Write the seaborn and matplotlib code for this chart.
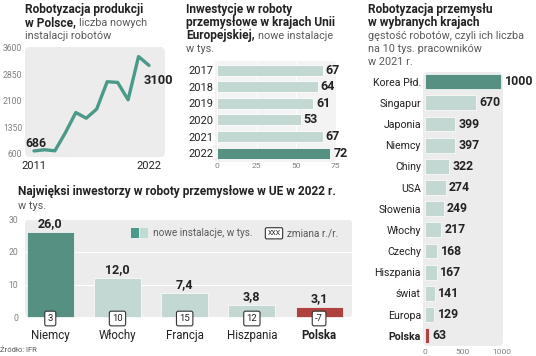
import matplotlib
matplotlib.use('Agg')
import matplotlib.pyplot as plt
from matplotlib.patches import FancyBboxPatch, Rectangle
import seaborn as sns

# data
pl_years = list(range(2011, 2023))
pl_installs = [686, 720, 690, 1200, 1770, 1610, 1870, 2640, 2620, 2130, 3350, 3100]

eu_years = ['2017', '2018', '2019', '2020', '2021', '2022']
eu_installs = [67, 64, 61, 53, 67, 72]

dens_countries = ['Korea Płd.', 'Singapur', 'Japonia', 'Niemcy', 'Chiny', 'USA', 'Słowenia',
                  'Włochy', 'Czechy', 'Hiszpania', 'świat', 'Europa', 'Polska']
dens_values = [1000, 670, 399, 397, 322, 274, 249, 217, 168, 167, 141, 129, 63]

inv_countries = ['Niemcy', 'Włochy', 'Francja', 'Hiszpania', 'Polska']
inv_values = [26.0, 12.0, 7.4, 3.8, 3.1]
inv_change = [3, 10, 15, 12, -7]

# colours
DARK = '#4b9a89'
LIGHT = '#bfdcd4'
RED = '#c1302b'
PANEL = '#ececec'
TXT = '#222222'
GREY = '#5a5a5a'
TICK = '#808080'

sns.set_style('white')
plt.rcParams['font.family'] = ['Liberation Sans Narrow', 'Roboto', 'DejaVu Sans']

W, H = 536, 356
fig = plt.figure(figsize=(W / 100, H / 100), dpi=100)
fig.patch.set_facecolor('white')

# background layer in pixel coords (titles, panels, legend)
bg = fig.add_axes([0, 0, 1, 1])
bg.set_xlim(0, W)
bg.set_ylim(H, 0)
bg.axis('off')
renderer = fig.canvas.get_renderer()


def panel(x0, y0, x1, y1, color=PANEL, r=5):
    bg.add_patch(FancyBboxPatch((x0, y0), x1 - x0, y1 - y0,
                                boxstyle=f'round,pad=0,rounding_size={r}',
                                fc=color, ec='none'))


def px_axes(x0, y0, x1, y1):
    ax = fig.add_axes([x0 / W, 1 - y1 / H, (x1 - x0) / W, (y1 - y0) / H])
    ax.patch.set_alpha(0)
    for s in ax.spines.values():
        s.set_visible(False)
    ax.tick_params(length=0)
    return ax


def title(x, y0, lines, pitch=13.2):
    for k, parts in enumerate(lines):
        xx = x
        for txt, bold in parts:
            t = bg.text(xx, y0 + k * pitch, txt, fontsize=8.6 if bold else 7.8,
                        fontweight='bold' if bold else 'normal',
                        color=TXT if bold else GREY, va='baseline', ha='left')
            xx += t.get_window_extent(renderer).width + 3


# ---- line chart: Poland installations
title(25, 12.5, [[('Robotyzacja produkcji', True)],
                 [('w Polsce,', True), ('liczba nowych', False)],
                 [('instalacji robotów', False)]])
panel(25, 47, 165, 157)
ax1 = px_axes(25, 47, 165, 157)
sns.lineplot(x=pl_years, y=pl_installs, ax=ax1, color=DARK, linewidth=2.4)
ax1.set_xlim(2010.14, 2023.53)
ax1.set_ylim(515, 3620)
ax1.set_yticks([600, 1350, 2100, 2850, 3600])
ax1.set_xticks([2011, 2022])
ax1.tick_params(axis='y', labelsize=6.2, labelcolor=TICK, pad=2)
ax1.tick_params(axis='x', labelsize=8, labelcolor=TXT, pad=3)
ax1.annotate(f'{pl_installs[0]}', (pl_years[0], pl_installs[0]), xytext=(-6.5, 2.5),
             textcoords='offset points', fontsize=8.8, fontweight='bold', color=TXT,
             va='baseline', ha='left')
ax1.annotate(f'{pl_installs[-1]}', (pl_years[-1], pl_installs[-1]), xytext=(-3.6, -13.7),
             textcoords='offset points', fontsize=9.3, fontweight='bold', color=TXT,
             va='baseline', ha='left')

# ---- EU yearly installations
title(186, 12.5, [[('Inwestycje w roboty', True)],
                  [('przemysłowe w krajach Unii', True)],
                  [('Europejskiej,', True), ('nowe instalacje', False)],
                  [('w tys.', False)]])
panel(215, 61, 336, 162, color='#f3f3f3', r=3)
ax2 = px_axes(217.3, 61.7, 335.2, 161.6)
eu_colors = [LIGHT] * (len(eu_years) - 1) + [DARK]
sns.barplot(x=eu_installs, y=eu_years, hue=eu_years, palette=eu_colors, legend=False,
            orient='h', width=0.66, ax=ax2, edgecolor='white', linewidth=0.6)
ax2.set_xlim(0, 75)
ax2.set_ylim(5.5, -0.5)
ax2.set_xticks([0, 25, 50, 75])
ax2.grid(axis='x', color='white', linewidth=0.8)
ax2.set_axisbelow(True)
ax2.set_xlabel('')
ax2.set_ylabel('')
ax2.tick_params(axis='x', labelsize=6, labelcolor=TICK, pad=1)
ax2.tick_params(axis='y', labelsize=8, labelcolor=TXT, pad=3)
for i, v in enumerate(eu_installs):
    ax2.text(v + 1.8, i, str(v), va='center', ha='left', fontsize=9,
             fontweight='bold', color=TXT, clip_on=False)

# ---- robot density
title(368, 12.5, [[('Robotyzacja przemysłu', True)],
                  [('w wybranych krajach', True)],
                  [('gęstość robotów, czyli ich liczba', False)],
                  [('na 10 tys. pracowników', False)],
                  [('w 2021 r.', False)]])
panel(423, 72, 503, 346)
ax3 = px_axes(423, 72, 503, 346)
dens_colors = [DARK] + [LIGHT] * (len(dens_countries) - 2) + [RED]
sns.barplot(x=dens_values, y=dens_countries, hue=dens_countries, palette=dens_colors,
            legend=False, orient='h', width=0.7, ax=ax3, edgecolor='white', linewidth=0.5)
ax3.set_xlim(-20, 1020)
ax3.set_ylim(12.485, -0.458)
ax3.set_xticks([0, 500, 1000])
ax3.set_xlabel('')
ax3.set_ylabel('')
ax3.tick_params(axis='x', labelsize=6, labelcolor=TICK, pad=2)
ax3.tick_params(axis='y', labelsize=7.6, labelcolor=TXT, pad=1.5)
for lbl in ax3.get_yticklabels():
    if lbl.get_text() == 'Polska':
        lbl.set_fontweight('bold')
for i, v in enumerate(dens_values):
    ax3.text(v + 39, i, str(v), va='center', ha='left', fontsize=8.8,
             fontweight='bold', color=TXT, clip_on=False)

# ---- biggest EU investors
title(18, 195, [[('Najwięksi inwestorzy w roboty przemysłowe w UE w 2022 r.', True)],
                [('w tys.', False)]], pitch=14)
panel(25, 219, 352, 318)
ax4 = px_axes(25, 219, 352, 318)
inv_colors = [DARK, LIGHT, LIGHT, LIGHT, RED]
sns.barplot(x=inv_countries, y=inv_values, hue=inv_countries, palette=inv_colors,
            legend=False, width=0.7, ax=ax4, edgecolor='white', linewidth=0.5)
ax4.set_xlim(-0.376, 4.49)
ax4.set_ylim(-0.21, 30.09)
ax4.set_yticks([0, 10, 20, 30])
ax4.grid(axis='y', color='white', linewidth=0.8)
ax4.set_axisbelow(True)
ax4.set_xlabel('')
ax4.set_ylabel('')
ax4.tick_params(axis='y', labelsize=6.2, labelcolor=TICK, pad=5)
ax4.tick_params(axis='x', labelsize=8.3, labelcolor=TXT, pad=8)
for lbl in ax4.get_xticklabels():
    if lbl.get_text() == 'Polska':
        lbl.set_fontweight('bold')
for i, (v, c) in enumerate(zip(inv_values, inv_change)):
    ax4.text(i, v + 0.6, f'{v:.1f}'.replace('.', ','), va='bottom', ha='center',
             fontsize=9, fontweight='bold', color=TXT)
    ax4.text(i, -0.37, str(c), va='center', ha='center', fontsize=6.8, color=TXT,
             clip_on=False,
             bbox=dict(boxstyle='round,pad=0.3,rounding_size=0.2', fc='white',
                       ec='#333333', lw=0.8))

# legend of bottom chart
bg.add_patch(Rectangle((131, 228), 8.3, 10.3, fc=DARK, ec='none', zorder=5))
bg.add_patch(Rectangle((140, 228), 8.3, 10.3, fc=LIGHT, ec='none', zorder=5))
bg.text(153, 233.3, 'nowe instalacje, w tys.', fontsize=7.2, color=GREY,
        va='center', ha='left')
bg.text(274, 233.3, 'XXX', fontsize=5, color=TXT, va='center', ha='center',
        bbox=dict(boxstyle='round,pad=0.3,rounding_size=0.2', fc='white',
                  ec='#333333', lw=0.8))
bg.text(287, 233.3, 'zmiana r./r.', fontsize=7.2, color=GREY, va='center', ha='left')

bg.text(0, 350, 'Źródło: IFR', fontsize=5.5, color=GREY, va='center', ha='left')

fig.savefig('out.png', dpi=100)
